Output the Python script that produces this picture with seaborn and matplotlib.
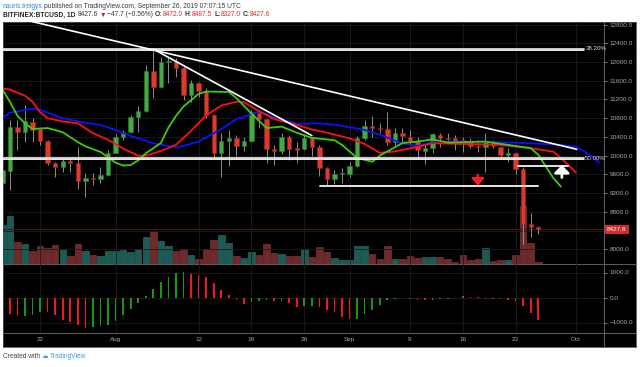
import matplotlib
matplotlib.use("Agg")
import matplotlib.pyplot as plt
import numpy as np
import pandas as pd
import seaborn as sns

W, H = 640, 367

# candles, daily, 2019-07-17 .. 2019-09-26
candle_dates = pd.date_range("2019-07-17", "2019-09-26", freq="D")
opens = [9410, 9680, 10620, 10513, 10726, 10560, 10320, 9850, 9765, 9887, 9837, 9466, 9530, 9510, 9588,
         10064, 10393, 10513, 10820, 10961, 11816, 11461, 12000, 12030, 11866, 11297, 11560, 11388, 10869, 10051,
         10320, 10370, 10214, 10320, 10918, 10776, 10150, 10107, 10393, 10165, 10136, 10370, 10192, 9731, 9502, 9609,
         9609, 9780, 10385, 10634, 10590, 10570, 10300, 10478, 10393, 10320, 10107, 10171, 10450, 10372, 10372,
         10336, 10286, 10214, 10193, 10300, 10193, 10015, 10064, 9709, 8541, 8472]
highs = [9800, 10763, 10763, 11083, 10799, 10600, 10335, 9870, 9979, 9940, 10192, 9624, 9630, 9765, 10122,
         10464, 10549, 10870, 11061, 11937, 12293, 12115, 12115, 12080, 11940, 11617, 11581, 11453, 10900, 10478,
         10549, 10442, 10407, 10980, 10976, 10800, 10229, 10478, 10440, 10300, 10442, 10407, 10229, 9765, 9694, 9730,
         9873, 10420, 10763, 10848, 10691, 10940, 10584, 10584, 10549, 10393, 10278, 10492, 10492, 10478, 10442,
         10407, 10370, 10336, 10478, 10336, 10207, 10157, 10086, 9765, 8769, 8487.5]
lows = [9300, 9267, 10122, 10299, 10299, 10229, 9808, 9551, 9658, 9658, 9282, 9124, 9375, 9410, 9566,
        10050, 10336, 10480, 10513, 10940, 11225, 11440, 11546, 11689, 11190, 11155, 11260, 10799, 9979, 9551,
        9780, 9985, 10107, 10300, 10584, 9835, 9800, 10037, 9900, 9835, 10122, 10000, 9566, 9375, 9395, 9410,
        9551, 9750, 10336, 10393, 10480, 10229, 10229, 10300, 10229, 9944, 9822, 10050, 10193, 10264, 10122,
        10086, 10157, 10086, 9658, 10157, 9980, 9872, 9609, 8114, 8270, 8327]
closes = [9695, 10620, 10513, 10748, 10549, 10320, 9850, 9765, 9887, 9837, 9466, 9524, 9510, 9588, 10064,
          10393, 10513, 10820, 10961, 11816, 11461, 12001, 12030, 11866, 11297, 11560, 11388, 10869, 10051, 10320,
          10370, 10214, 10320, 10940, 10776, 10136, 10107, 10393, 10150, 10130, 10370, 10192, 9731, 9502, 9609, 9638,
          9780, 10385, 10634, 10584, 10570, 10300, 10478, 10421, 10314, 10122, 10171, 10457, 10372, 10350, 10300,
          10278, 10214, 10179, 10300, 10207, 10015, 10064, 9709, 8541, 8484, 8427.6]
volumes = [39, 48.3, 21.6, 20, 13.3, 18, 16, 19, 14.6, 7.6, 19.6, 12.6, 9, 8.3, 12.6,
           12.6, 14, 12, 15.3, 27.3, 32.3, 22.6, 18, 12.6, 14.6, 9, 4.6, 14.6, 24, 29.3,
           21, 7.6, 5.6, 12.3, 9.3, 19.6, 10.6, 10, 8.3, 8.3, 15, 6.6, 17.3, 11.6, 5.6, 4,
           4, 18.3, 17.6, 10, 4.6, 18.3, 5, 5, 8, 6, 6.6, 6.6, 6.6, 4.6, 2.3,
           9, 4, 5, 16, 3.3, 4.3, 4, 9, 58.3, 21.3, 2]
macd_hist = [-307, -640, -747, -740, -707, -573, -587, -707, -880, -973, -1080, -1200, -1173, -1133, -1080,
             -947, -693, -467, -213, 53, 360, 613, 813, 1000, 1027, 960, 893, 827, 587, 293,
             93, -107, -267, -173, -133, -115, -147, -133, -213, -365, -355, -320, -373, -507, -587, -773,
             -867, -840, -667, -480, -280, -107, -40, -27, -67, -80, -107, -100, -67, -40, -13,
             53, 40, 27, -40, -67, -70, -107, -133, -333, -613, -880]

# Williams alligator lines
lips_dates = ["2019-07-16", "2019-07-17", "2019-07-18", "2019-07-19", "2019-07-20", "2019-07-21", "2019-07-23",
              "2019-07-25", "2019-07-27", "2019-07-28", "2019-07-30", "2019-08-01", "2019-08-02", "2019-08-03",
              "2019-08-04", "2019-08-05", "2019-08-07", "2019-08-08", "2019-08-09", "2019-08-10", "2019-08-12",
              "2019-08-13", "2019-08-16", "2019-08-17", "2019-08-19", "2019-08-21", "2019-08-23", "2019-08-25",
              "2019-08-27", "2019-08-30", "2019-08-31", "2019-09-02", "2019-09-04", "2019-09-05", "2019-09-08",
              "2019-09-10", "2019-09-12", "2019-09-14", "2019-09-19", "2019-09-22", "2019-09-25", "2019-09-26",
              "2019-09-27", "2019-09-28", "2019-09-29"]
lips_vals = [11700, 11420, 11150, 10850, 10690, 10570, 10590, 10500, 10290, 10200, 10080, 9850, 9790, 9800,
             9900, 10050, 10270, 10600, 10850, 11050, 11320, 11370, 11360, 11230, 10900, 10590, 10620, 10490,
             10380, 10330, 10230, 9950, 9870, 10000, 10270, 10300, 10350, 10280, 10300, 10230, 10160, 10020,
             9770, 9520, 9340]
teeth_dates = ["2019-07-16", "2019-07-17", "2019-07-18", "2019-07-20", "2019-07-21", "2019-07-22", "2019-07-23",
               "2019-07-25", "2019-07-27", "2019-07-29", "2019-07-31", "2019-08-02", "2019-08-04", "2019-08-05",
               "2019-08-07", "2019-08-09", "2019-08-11", "2019-08-13", "2019-08-15", "2019-08-17", "2019-08-18",
               "2019-08-20", "2019-08-22", "2019-08-25", "2019-08-27", "2019-08-29", "2019-09-01", "2019-09-03",
               "2019-09-05", "2019-09-07", "2019-09-10", "2019-09-12", "2019-09-16", "2019-09-21", "2019-09-25",
               "2019-09-28", "2019-09-29", "2019-10-01"]
teeth_vals = [11460, 11440, 11410, 11280, 11150, 10930, 10800, 10730, 10690, 10480, 10340, 10150, 10000, 10000,
              10100, 10230, 10530, 10860, 11070, 11150, 11140, 10950, 10780, 10660, 10560, 10490, 10370, 10250,
              10060, 10090, 10190, 10265, 10250, 10230, 10160, 10085, 9950, 9640]
jaw_dates = ["2019-07-16", "2019-07-17", "2019-07-18", "2019-07-21", "2019-07-22", "2019-07-25", "2019-07-28",
             "2019-07-30", "2019-08-01", "2019-08-03", "2019-08-06", "2019-08-09", "2019-08-10", "2019-08-12",
             "2019-08-15", "2019-08-17", "2019-08-20", "2019-08-22", "2019-08-24", "2019-08-25", "2019-08-28",
             "2019-08-30", "2019-09-01", "2019-09-03", "2019-09-05", "2019-09-08", "2019-09-10", "2019-09-12",
             "2019-09-17", "2019-09-21", "2019-09-25", "2019-09-29", "2019-10-01", "2019-10-02", "2019-10-03",
             "2019-10-04"]
jaw_vals = [10760, 10800, 10920, 11000, 10980, 10800, 10700, 10656, 10550, 10420, 10265, 10180, 10210, 10300,
            10570, 10780, 10940, 10820, 10730, 10680, 10690, 10660, 10607, 10550, 10450, 10260, 10210, 10290,
            10300, 10286, 10265, 10230, 10190, 10100, 10000, 9860]

# drawings
fib_levels = [12279, 9940]
fib_labels = ["38.20%", "50.00%"]
fib_end = "2019-10-02"
trend_long = (["2019-07-21", "2019-10-01 02:00"], [12862, 10137])
trend_short = (["2019-08-06", "2019-08-27"], [12276, 10430])
support_low = (["2019-08-28 02:00", "2019-09-26"], 9360)
support_short = (["2019-09-23 07:00", "2019-09-29 22:00"], 9786)
arrow_down = ("2019-09-18", 9588, 9360)
arrow_up = ("2019-09-29 03:00", 9534, 9800)
last_price = 8427.6

price_ticks = np.arange(8000, 12801, 400)
macd_ticks = [1000, 0, -1000]
x_tick_dates = ["2019-07-22", "2019-08-01", "2019-08-12", "2019-08-19", "2019-08-26", "2019-09-01",
                "2019-09-09", "2019-09-16", "2019-09-23", "2019-10-01"]
x_tick_labels = ["22", "Aug", "12", "19", "26", "Sep", "9", "16", "23", "Oct"]

UP, DOWN = "#45a845", "#db3a2c"
UP_EDGE, DOWN_EDGE = "#2c7a2c", "#a02418"
GRID = "#1c1c1c"
TXT = "#a8a8a8"


def ts(d):
    return pd.to_datetime(d, format="mixed")


sns.set_theme(style="dark")
plt.rcParams["font.family"] = ["Liberation Sans", "DejaVu Sans"]

fig = plt.figure(figsize=(W / 100, H / 100), dpi=100)
fig.patch.set_facecolor("white")


def px_axes(x0, y0, x1, y1):
    return fig.add_axes([x0 / W, 1 - y1 / H, (x1 - x0) / W, (y1 - y0) / H])


# black chart box with pane separators
bg = px_axes(3, 22, 636, 347)
bg.set_facecolor("black")
bg.set_xlim(3, 636)
bg.set_ylim(347, 22)
bg.set_xticks([])
bg.set_yticks([])
for s in bg.spines.values():
    s.set_color("#505050")
    s.set_linewidth(0.6)
bg.axvline(604, color="#5a5a5a", lw=0.8)
bg.axhline(264, color="#5a5a5a", lw=0.8)
bg.axhline(333, color="#5a5a5a", lw=0.8)

x_left = pd.Timestamp("2019-07-17 02:00")
x_right = pd.Timestamp("2019-10-04 17:00")
tick_x = ts(x_tick_dates)

o = np.array(opens, dtype=float)
c = np.array(closes, dtype=float)
up = c >= o

# volume underlay
ax_vol = px_axes(3, 22, 604, 264)
ax_vol.set_facecolor("none")
ax_vol.bar(candle_dates, volumes, width=0.86,
           color=np.where(up, "#1d5955", "#6e2a2a"),
           edgecolor=np.where(up, "#2a7670", "#8e3838"), linewidth=0.4)
ax_vol.set_xlim(x_left, x_right)
ax_vol.set_ylim(0, 242)
ax_vol.axis("off")

# price pane
ax = px_axes(3, 22, 604, 264)
ax.set_facecolor("none")
ax.set_xlim(x_left, x_right)
ax.set_ylim(7686, 12855)
ax.set_xticks(tick_x)
ax.set_xticklabels([])
ax.set_yticks(price_ticks)
# the 8400 label sits under the last-price tag
ax.set_yticklabels(["" if v == 8400 else f"{v:.1f}" for v in price_ticks])
ax.yaxis.tick_right()
ax.tick_params(axis="y", colors=TXT, labelsize=4.6, length=2, width=0.5, pad=2)
ax.tick_params(axis="x", length=0)
ax.grid(True, color=GRID, lw=0.6)
for s in ax.spines.values():
    s.set_visible(False)

ax.axhline(last_price, color="#4d1515", lw=0.8, zorder=1)

ax.vlines(candle_dates, lows, highs, color="#8e8e8e", lw=0.7, zorder=3)
ax.bar(candle_dates, np.maximum(np.abs(c - o), 22), bottom=np.minimum(o, c), width=0.58,
       color=np.where(up, UP, DOWN), edgecolor=np.where(up, UP_EDGE, DOWN_EDGE),
       linewidth=0.4, zorder=4)

for d, v, col in [(jaw_dates, jaw_vals, "#0a12ff"), (teeth_dates, teeth_vals, "#ff1010"),
                  (lips_dates, lips_vals, "#3ccc0a")]:
    sns.lineplot(x=ts(d), y=v, ax=ax, color=col, lw=1.3, zorder=5)
ax.set_xlabel("")
ax.set_ylabel("")

for lvl, lab in zip(fib_levels, fib_labels):
    ax.plot([pd.Timestamp("2019-07-10"), pd.Timestamp(fib_end)], [lvl, lvl], color="white", lw=2.0,
            zorder=6, solid_capstyle="butt")
    ax.plot([pd.Timestamp("2019-07-10"), pd.Timestamp(fib_end)], [lvl, lvl], color="#6a6a6a", lw=0.35,
            zorder=6)
    ax.annotate(lab, xy=(pd.Timestamp(fib_end), lvl), xytext=(1.2, 0), textcoords="offset points",
                va="center", ha="left", fontsize=4.4, color="#dcdcdc", zorder=7)

for d, v in [trend_long, trend_short]:
    ax.plot(ts(d), v, color="white", lw=1.2, zorder=6)
for d, v in [support_low, support_short]:
    ax.plot(ts(d), [v, v], color="#e6e6e6", lw=1.4, zorder=6)

ax.annotate("", xy=(pd.Timestamp(arrow_down[0]), arrow_down[2]),
            xytext=(pd.Timestamp(arrow_down[0]), arrow_down[1]),
            arrowprops=dict(arrowstyle="-|>,head_width=0.45,head_length=0.5", color="#ff1a1a", lw=1.8,
                            mutation_scale=8, shrinkA=0, shrinkB=0), zorder=7)
ax.annotate("", xy=(pd.Timestamp(arrow_up[0]), arrow_up[2]),
            xytext=(pd.Timestamp(arrow_up[0]), arrow_up[1]),
            arrowprops=dict(arrowstyle="-|>,head_width=0.5,head_length=0.5", color="white", lw=2.0,
                            mutation_scale=9, shrinkA=0, shrinkB=0), zorder=7)

ax.annotate(f"{last_price:.1f}", xy=(1, last_price), xycoords=("axes fraction", "data"),
            xytext=(2.2, 0), textcoords="offset points", va="center", ha="left",
            fontsize=4.6, color="white",
            bbox=dict(boxstyle="square,pad=0.35", fc="#d22b2b", ec="none"), zorder=8)

# MACD histogram pane
ax_m = px_axes(3, 264, 604, 333)
ax_m.set_facecolor("none")
mh = np.array(macd_hist, dtype=float)
rising = np.concatenate([[False], mh[1:] > mh[:-1]])
ax_m.bar(candle_dates, mh, width=0.22, color=np.where(rising, "#139a13", "#f01818"), linewidth=0)
ax_m.set_xlim(x_left, x_right)
ax_m.set_ylim(-1420, 1340)
ax_m.set_yticks(macd_ticks)
ax_m.set_yticklabels([f"{v:.1f}".replace("-", "\u2212") for v in macd_ticks])
ax_m.yaxis.tick_right()
ax_m.set_xticks(tick_x)
ax_m.set_xticklabels(x_tick_labels)
ax_m.tick_params(axis="y", colors=TXT, labelsize=4.6, length=2, width=0.5, pad=2)
ax_m.tick_params(axis="x", colors=TXT, labelsize=4.6, length=0, pad=3)
ax_m.grid(True, color=GRID, lw=0.6)
for s in ax_m.spines.values():
    s.set_visible(False)

# header and footer text
renderer = fig.canvas.get_renderer()


def text_run(x_px, y_px, pieces, size):
    x = x_px
    for s, col, weight, gap in pieces:
        t = fig.text(x / W, 1 - y_px / H, s, color=col, fontsize=size, fontweight=weight,
                     va="center", ha="left")
        x += t.get_window_extent(renderer).width + gap


text_run(3, 6, [("nauris.treigys", "#2a8ce0", "normal", 1.5),
                ("published on TradingView.com, September 26, 2019 07:07:15 UTC", "#3a3a3a", "normal", 0)], 4.8)
text_run(3, 15, [("BITFINEX:BTCUSD, 1D", "#222222", "bold", 2.3),
                 ("8427.6", "#333333", "normal", 1.4),
                 ("\u25bc", "#d01c1c", "normal", 1.4),
                 ("\u221247.7 (\u22120.56%)", "#333333", "normal", 1.8),
                 ("O:", "#333333", "bold", 0.3), ("8472.0", "#d32f2f", "normal", 1.8),
                 ("H:", "#333333", "bold", 0.3), ("8487.5", "#d32f2f", "normal", 1.8),
                 ("L:", "#333333", "bold", 0.3), ("8327.0", "#d32f2f", "normal", 1.8),
                 ("C:", "#333333", "bold", 0.3), ("8427.6", "#d32f2f", "normal", 0)], 4.8)
text_run(3, 357, [("Created with", "#444444", "normal", 2.0),
                  ("\u2601", "#3a9ee0", "normal", 1.0),
                  ("TradingView", "#3a9ee0", "normal", 0)], 4.8)

fig.savefig("out.png", dpi=100, facecolor="white")
